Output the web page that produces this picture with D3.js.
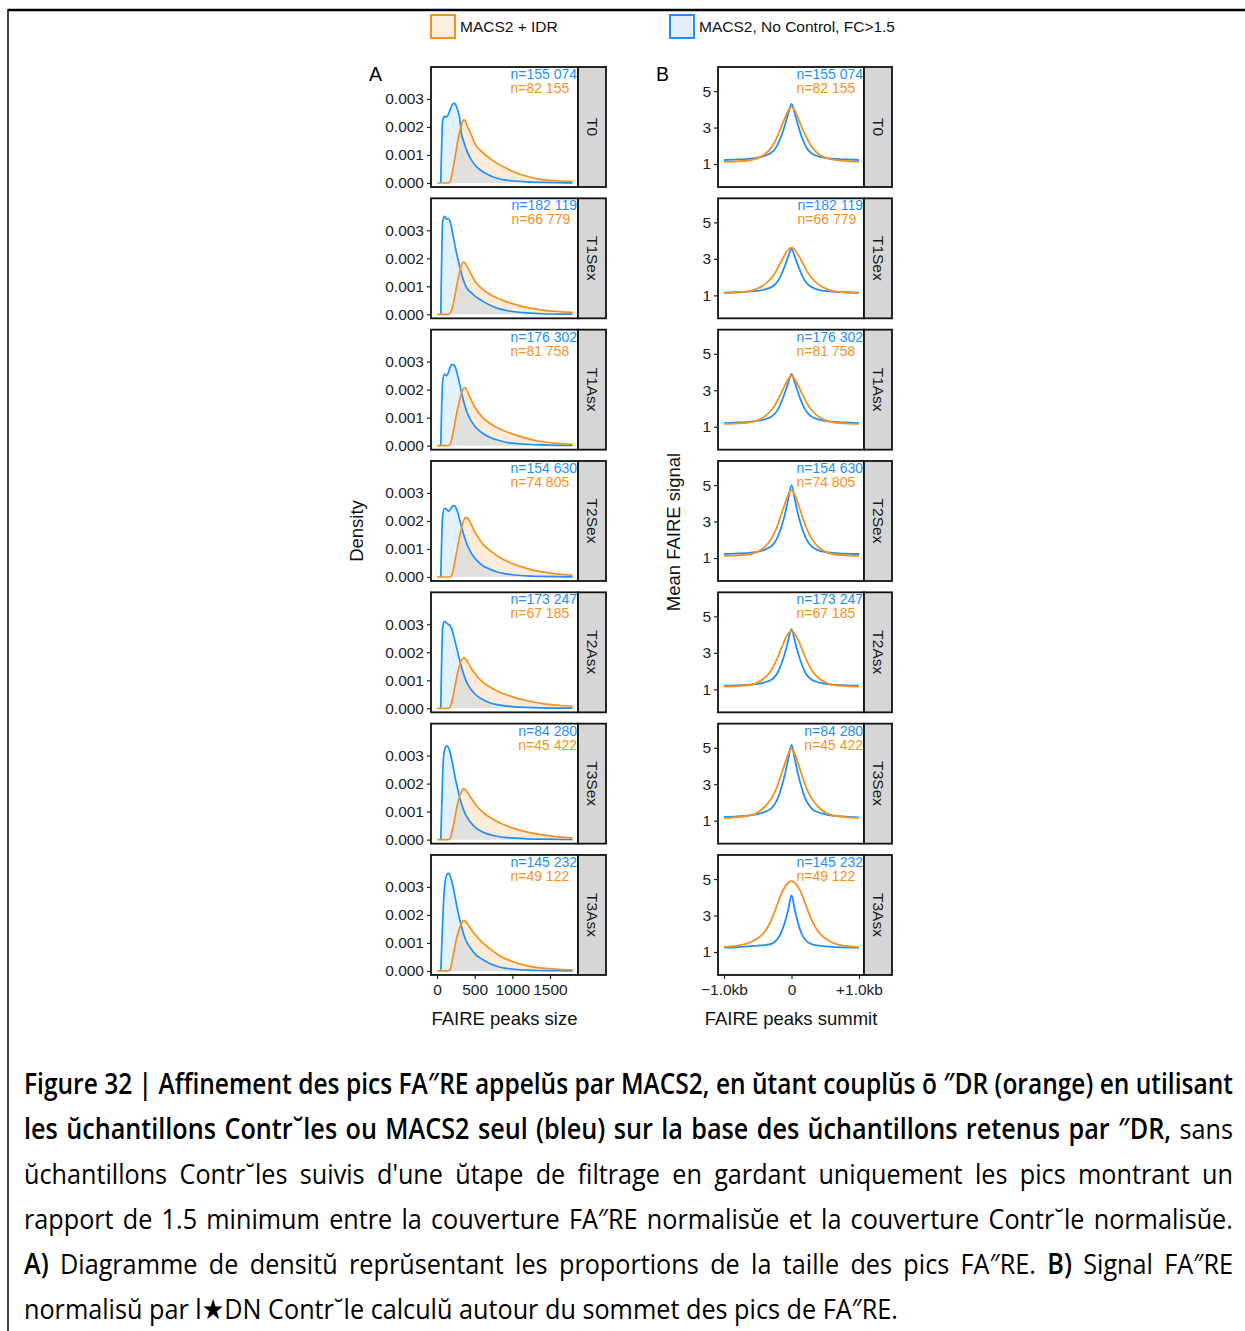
<!DOCTYPE html>
<html><head><meta charset="utf-8">
<script src="https://cdn.jsdelivr.net/npm/d3@7"></script>
<style>body{margin:0;background:#fff} svg{display:block}</style>
</head><body>
<svg id="c" width="1245" height="1331"></svg>
<script>
// ---------------- DATA ----------------
const samples = ["T0","T1Sex","T1Asx","T2Sex","T2Asx","T3Sex","T3Asx"];
const nBlue   = ["n=155 074","n=182 119","n=176 302","n=154 630","n=173 247","n=84 280","n=145 232"];
const nOrange = ["n=82 155","n=66 779","n=81 758","n=74 805","n=67 185","n=45 422","n=49 122"];
const seriesNames = ["MACS2 + IDR","MACS2, No Control, FC>1.5"];

// Panel A: FAIRE peak size (bp) vs density (x 1e-3)
const sizeX = [0,25,50,75,100,125,150,175,200,225,250,275,300,325,350,375,400,450,500,600,700,800,900,1000,1200,1400,1600,1800];
const densBlue = [
 [0,0,0,2.25,2.38,2.35,2.45,2.62,2.78,2.85,2.78,2.6,2.32,1.75,1.52,1.3,1.12,0.85,0.65,0.42,0.27,0.17,0.11,0.08,0.04,0.02,0.01,0.005],
 [0,0,0,3.3,3.5,3.4,3.42,3.3,3.0,2.65,2.3,2.0,1.72,1.45,1.22,1.05,0.92,0.78,0.66,0.48,0.33,0.22,0.15,0.1,0.05,0.02,0.01,0.005],
 [0,0,0,2.3,2.55,2.5,2.6,2.8,2.9,2.88,2.75,2.5,2.2,1.9,1.62,1.38,1.18,0.9,0.7,0.45,0.3,0.2,0.13,0.09,0.05,0.025,0.012,0.006],
 [0,0,0,2.2,2.45,2.42,2.35,2.4,2.52,2.55,2.48,2.3,2.05,1.8,1.55,1.35,1.15,0.88,0.68,0.42,0.28,0.18,0.12,0.08,0.04,0.02,0.01,0.005],
 [0,0,0,2.9,3.1,3.05,3.0,2.95,2.8,2.55,2.28,2.0,1.72,1.48,1.25,1.05,0.9,0.68,0.52,0.32,0.2,0.13,0.09,0.06,0.03,0.015,0.008,0.004],
 [0,0,0,2.4,3.2,3.35,3.3,3.1,2.8,2.45,2.1,1.8,1.5,1.28,1.08,0.92,0.8,0.6,0.46,0.28,0.18,0.12,0.08,0.06,0.03,0.015,0.008,0.004],
 [0,0,0,1.8,3.0,3.4,3.49,3.4,3.15,2.85,2.5,2.15,1.85,1.58,1.35,1.15,1.0,0.8,0.62,0.42,0.27,0.17,0.1,0.07,0.03,0.015,0.008,0.004]
];
const densOrange = [
 [0,0,0,0,0,0,0,0.05,0.35,0.7,1.1,1.5,1.82,2.08,2.25,2.22,2.05,1.75,1.42,1.1,0.88,0.7,0.55,0.42,0.23,0.12,0.08,0.06],
 [0,0,0,0,0,0,0,0.05,0.2,0.5,0.85,1.2,1.5,1.75,1.86,1.82,1.7,1.45,1.2,0.9,0.72,0.58,0.47,0.38,0.24,0.15,0.1,0.07],
 [0,0,0,0,0,0,0,0.05,0.3,0.62,1.0,1.35,1.65,1.88,2.05,2.07,1.95,1.65,1.38,1.02,0.8,0.64,0.52,0.42,0.25,0.14,0.08,0.05],
 [0,0,0,0,0,0,0,0,0.1,0.4,0.75,1.1,1.45,1.75,1.98,2.12,2.12,1.9,1.62,1.2,0.95,0.75,0.6,0.48,0.3,0.18,0.1,0.06],
 [0,0,0,0,0,0,0,0.05,0.28,0.6,0.95,1.28,1.55,1.72,1.8,1.78,1.68,1.45,1.25,0.95,0.76,0.62,0.5,0.41,0.27,0.17,0.11,0.07],
 [0,0,0,0,0,0,0,0.05,0.3,0.62,0.98,1.3,1.55,1.72,1.82,1.8,1.7,1.5,1.3,1.0,0.8,0.65,0.52,0.42,0.27,0.17,0.1,0.06],
 [0,0,0,0,0,0,0,0.05,0.35,0.7,1.05,1.32,1.55,1.7,1.8,1.78,1.7,1.5,1.32,1.02,0.8,0.6,0.45,0.34,0.18,0.1,0.06,0.04]
];
const densTicks = [0,1,2,3];
const densTickLabels = ["0.000","0.001","0.002","0.003"];
const sizeTicks = [0,500,1000,1500];
const sizeTickLabels = ["0","500","1000","1500"];

// Panel B: distance to summit (kb) vs mean FAIRE signal
const profX = [-1,-0.8,-0.6,-0.5,-0.4,-0.3,-0.25,-0.2,-0.15,-0.1,-0.05,0,0.05,0.1,0.15,0.2,0.25,0.3,0.4,0.5,0.6,0.8,1];
const sigBlue = [
 [1.22,1.25,1.3,1.35,1.45,1.62,1.8,2.1,2.55,3.1,3.75,4.3,3.75,3.1,2.5,2.05,1.75,1.58,1.42,1.34,1.29,1.25,1.22],
 [1.15,1.18,1.22,1.25,1.32,1.45,1.58,1.8,2.15,2.6,3.1,3.55,3.1,2.6,2.15,1.8,1.58,1.45,1.3,1.24,1.2,1.17,1.15],
 [1.2,1.23,1.28,1.32,1.4,1.55,1.7,1.95,2.35,2.85,3.4,3.9,3.4,2.85,2.35,1.95,1.7,1.55,1.4,1.32,1.27,1.23,1.2],
 [1.22,1.25,1.3,1.35,1.45,1.65,1.85,2.2,2.7,3.35,4.2,5.0,4.2,3.35,2.7,2.2,1.85,1.62,1.42,1.33,1.28,1.24,1.22],
 [1.2,1.22,1.26,1.3,1.38,1.52,1.68,1.95,2.4,2.95,3.65,4.3,3.65,2.95,2.4,1.95,1.68,1.52,1.38,1.3,1.26,1.22,1.2],
 [1.2,1.24,1.3,1.36,1.47,1.68,1.9,2.25,2.8,3.5,4.35,5.15,4.35,3.5,2.8,2.25,1.9,1.66,1.45,1.35,1.28,1.22,1.18],
 [1.24,1.27,1.32,1.35,1.38,1.45,1.55,1.75,2.1,2.6,3.3,4.1,3.3,2.55,2.0,1.7,1.52,1.43,1.35,1.31,1.28,1.25,1.23]
];
const sigOrange = [
 [1.12,1.15,1.22,1.32,1.52,1.9,2.2,2.6,3.05,3.5,3.92,4.12,3.92,3.5,3.05,2.62,2.25,1.95,1.55,1.35,1.25,1.17,1.12],
 [1.12,1.16,1.25,1.38,1.6,1.95,2.2,2.52,2.88,3.22,3.5,3.62,3.5,3.22,2.88,2.52,2.2,1.95,1.6,1.38,1.25,1.16,1.12],
 [1.15,1.18,1.25,1.35,1.55,1.9,2.15,2.48,2.85,3.25,3.6,3.8,3.6,3.25,2.85,2.48,2.15,1.9,1.55,1.35,1.25,1.18,1.15],
 [1.12,1.15,1.22,1.35,1.6,2.05,2.4,2.85,3.4,3.95,4.45,4.75,4.45,3.95,3.4,2.85,2.4,2.05,1.6,1.35,1.22,1.15,1.12],
 [1.15,1.18,1.25,1.38,1.62,2.05,2.4,2.8,3.25,3.7,4.05,4.2,4.05,3.7,3.25,2.8,2.4,2.05,1.62,1.38,1.25,1.18,1.15],
 [1.15,1.2,1.3,1.45,1.75,2.2,2.55,3.0,3.55,4.1,4.65,4.95,4.65,4.1,3.55,3.0,2.55,2.2,1.75,1.45,1.3,1.2,1.15],
 [1.28,1.35,1.55,1.75,2.1,2.75,3.2,3.7,4.2,4.55,4.8,4.88,4.8,4.55,4.2,3.7,3.2,2.75,2.1,1.75,1.52,1.33,1.26]
];
const sigTicks = [1,3,5];
const sigTickLabels = ["1","3","5"];
const summitTicks = [-1,0,1];
const summitTickLabels = ["\u22121.0kb","0","+1.0kb"];

// ---------------- STYLE / LAYOUT ----------------
const FONT = "'Liberation Sans', Arial, Helvetica, sans-serif";
const BLUE = "#1f8ffb", ORANGE = "#f7901e";
const BLUE_FILL = "rgba(31,143,251,0.13)", ORANGE_FILL = "rgba(247,144,30,0.17)";
const rowTop = i => 67 + i * 131.33;
const PH = 120;
const PA = {x0: 431, x1: 578, s1: 606};
const PB = {x0: 718, x1: 864, s1: 892};

const svg = d3.select("#c");

// frame
svg.append("line").attr("x1", 8).attr("x2", 1245).attr("y1", 10).attr("y2", 10).attr("stroke", "#000").attr("stroke-width", 2.5);
svg.append("line").attr("x1", 8).attr("x2", 8).attr("y1", 9).attr("y2", 1331).attr("stroke", "#000").attr("stroke-width", 1.5);

// legend
const legendX = [431, 670];
const legendStroke = [ORANGE, BLUE];
const legendFill = ["#fdede0", "#e2eefb"];
seriesNames.forEach((name, k) => {
  svg.append("rect").attr("x", legendX[k]).attr("y", 15).attr("width", 24).attr("height", 23)
    .attr("fill", legendFill[k]).attr("stroke", legendStroke[k]).attr("stroke-width", 2);
  svg.append("text").attr("x", legendX[k] + 29).attr("y", 32).attr("font-family", FONT)
    .attr("font-size", 15.5).attr("fill", "#111").text(name);
});

// panel letters and axis titles
svg.append("text").attr("x", 369).attr("y", 81).attr("font-family", FONT).attr("font-size", 19.5).text("A");
svg.append("text").attr("x", 656).attr("y", 81).attr("font-family", FONT).attr("font-size", 19.5).text("B");
svg.append("text").attr("transform", "translate(363,531) rotate(-90)").attr("text-anchor", "middle")
  .attr("font-family", FONT).attr("font-size", 18.5).attr("fill", "#111").text("Density");
svg.append("text").attr("transform", "translate(680,532) rotate(-90)").attr("text-anchor", "middle")
  .attr("font-family", FONT).attr("font-size", 18.5).attr("fill", "#111").text("Mean FAIRE signal");
svg.append("text").attr("x", (PA.x0 + PA.x1) / 2).attr("y", 1025).attr("text-anchor", "middle")
  .attr("font-family", FONT).attr("font-size", 18.5).attr("fill", "#111").text("FAIRE peaks size");
svg.append("text").attr("x", (PB.x0 + PB.x1) / 2).attr("y", 1025).attr("text-anchor", "middle")
  .attr("font-family", FONT).attr("font-size", 18.5).attr("fill", "#111").text("FAIRE peaks summit");

const xA = d3.scaleLinear().domain([-80, 1872]).range([PA.x0, PA.x1]);
const xB = d3.scaleLinear().domain([-1.089, 1.074]).range([PB.x0, PB.x1]);

function styleAxis(g) {
  g.select(".domain").remove();
  g.selectAll(".tick line").attr("stroke", "#222").attr("stroke-width", 1.2);
  g.selectAll(".tick text").attr("fill", "#222").attr("font-family", FONT).attr("font-size", 15.5);
}

function nLabels(i, x1, top) {
  const g = svg.append("g").attr("font-family", FONT).attr("font-size", 14);
  const tb = g.append("text").attr("y", top + 12).attr("fill", BLUE).text(nBlue[i]);
  const to = g.append("text").attr("y", top + 26).attr("fill", ORANGE).text(nOrange[i]);
  const w = Math.max(tb.node().getComputedTextLength(), to.node().getComputedTextLength());
  tb.attr("x", x1 - 1 - w); to.attr("x", x1 - 1 - w);
}

function strip(P, top, label) {
  svg.append("rect").attr("x", P.x1).attr("y", top).attr("width", P.s1 - P.x1).attr("height", PH)
    .attr("fill", "#d6d6d6").attr("stroke", "#111").attr("stroke-width", 1.8);
  svg.append("text").attr("transform", `translate(${(P.x1 + P.s1) / 2},${top + PH / 2}) rotate(90)`)
    .attr("text-anchor", "middle").attr("dominant-baseline", "central")
    .attr("font-family", FONT).attr("font-size", 15.5).attr("fill", "#1a1a1a").text(label);
}

samples.forEach((s, i) => {
  const top = rowTop(i);
  const last = i === samples.length - 1;

  // ---- Panel A ----
  const yA = d3.scaleLinear().domain([-0.143, 4.14]).range([top + PH, top]);
  svg.append("rect").attr("x", PA.x0).attr("y", top).attr("width", PA.x1 - PA.x0).attr("height", PH).attr("fill", "#fff");
  const area = d3.area().x(d => xA(d[0])).y0(yA(0)).y1(d => yA(d[1])).curve(d3.curveMonotoneX);
  const line = d3.line().x(d => xA(d[0])).y(d => yA(d[1])).curve(d3.curveMonotoneX);
  const oPts = sizeX.map((x, j) => [x, densOrange[i][j]]);
  const bPts = sizeX.map((x, j) => [x, densBlue[i][j]]).slice(2);
  svg.append("path").attr("d", area(oPts)).attr("fill", ORANGE_FILL);
  svg.append("path").attr("d", area(bPts)).attr("fill", BLUE_FILL);
  svg.append("path").attr("d", line(bPts)).attr("fill", "none").attr("stroke", BLUE).attr("stroke-width", 1.7);
  svg.append("path").attr("d", line(oPts)).attr("fill", "none").attr("stroke", ORANGE).attr("stroke-width", 1.7);
  svg.append("rect").attr("x", PA.x0).attr("y", top).attr("width", PA.x1 - PA.x0).attr("height", PH)
    .attr("fill", "none").attr("stroke", "#111").attr("stroke-width", 1.8);
  strip(PA, top, s);
  nLabels(i, PA.x1, top);
  svg.append("g").attr("transform", `translate(${PA.x0},0)`)
    .call(d3.axisLeft(yA).tickValues(densTicks).tickFormat((d, k) => densTickLabels[k]).tickSize(4).tickPadding(3))
    .call(styleAxis);
  if (last) {
    svg.append("g").attr("transform", `translate(0,${top + PH})`)
      .call(d3.axisBottom(xA).tickValues(sizeTicks).tickFormat((d, k) => sizeTickLabels[k]).tickSize(4).tickPadding(5))
      .call(styleAxis);
  }

  // ---- Panel B ----
  const yB = d3.scaleLinear().domain([-0.26, 6.32]).range([top + PH, top]);
  svg.append("rect").attr("x", PB.x0).attr("y", top).attr("width", PB.x1 - PB.x0).attr("height", PH).attr("fill", "#fff");
  const lineB = d3.line().x(d => xB(d[0])).y(d => yB(d[1])).curve(d3.curveMonotoneX);
  svg.append("path").attr("d", lineB(profX.map((x, j) => [x, sigBlue[i][j]])))
    .attr("fill", "none").attr("stroke", BLUE).attr("stroke-width", 1.8);
  svg.append("path").attr("d", lineB(profX.map((x, j) => [x, sigOrange[i][j]])))
    .attr("fill", "none").attr("stroke", ORANGE).attr("stroke-width", 1.8);
  svg.append("rect").attr("x", PB.x0).attr("y", top).attr("width", PB.x1 - PB.x0).attr("height", PH)
    .attr("fill", "none").attr("stroke", "#111").attr("stroke-width", 1.8);
  strip(PB, top, s);
  nLabels(i, PB.x1, top);
  svg.append("g").attr("transform", `translate(${PB.x0},0)`)
    .call(d3.axisLeft(yB).tickValues(sigTicks).tickFormat((d, k) => sigTickLabels[k]).tickSize(4).tickPadding(3))
    .call(styleAxis);
  if (last) {
    svg.append("g").attr("transform", `translate(0,${top + PH})`)
      .call(d3.axisBottom(xB).tickValues(summitTicks).tickFormat((d, k) => summitTickLabels[k]).tickSize(4).tickPadding(5))
      .call(styleAxis);
  }
});

// ---------------- CAPTION ----------------
const CAP_FONT = "'Open Sans', 'Noto Sans', 'DejaVu Sans', sans-serif";
const CAP_SIZE = 28;
const BOLD_W = 600;
const capLines = [
  [["Figure 32 | Affinement des pics FA\u2033RE appel\u016Ds par MACS2, en \u016Dtant coupl\u016Ds \u014D \u2033DR (orange) en utilisant", true]],
  [["les \u016Dchantillons Contr\u02D8les ou MACS2 seul (bleu) sur la base des \u016Dchantillons retenus par \u2033DR,", true], ["sans", false]],
  [["\u016Dchantillons Contr\u02D8les suivis d'une \u016Dtape de filtrage en gardant uniquement les pics montrant un", false]],
  [["rapport de 1.5 minimum entre la couverture FA\u2033RE normalis\u016De et la couverture Contr\u02D8le normalis\u016De.", false]],
  [["A)", true], ["Diagramme de densit\u016D repr\u016Dsentant les proportions de la taille des pics FA\u2033RE.", false], ["B)", true], ["Signal FA\u2033RE", false]],
  [["normalis\u016D par l\u2605DN Contr\u02D8le calcul\u016D autour du sommet des pics de FA\u2033RE.", false]]
];
const meas = svg.append("text").attr("font-family", CAP_FONT).attr("font-size", CAP_SIZE);
function mw(t, b) { meas.attr("font-weight", b ? BOLD_W : 400).text(t); return meas.node().getComputedTextLength(); }
const spaceW = mw("a a", false) - mw("aa", false);
const lineWords = capLines.map(segs => {
  const out = [];
  segs.forEach(([t, b]) => t.split(" ").forEach(w => out.push({t: w, b, w: mw(w, b)})));
  return out;
});
const lastWords = lineWords[lineWords.length - 1];
const naturalLast = d3.sum(lastWords, d => d.w) + spaceW * (lastWords.length - 1);
const sx = 874 / naturalLast;
const fullW = 1209 / sx;
meas.remove();
const capG = svg.append("g").attr("transform", `translate(24,0) scale(${sx},1)`);
lineWords.forEach((words, li) => {
  const y = 1094 + li * 45;
  const sumW = d3.sum(words, d => d.w);
  const justify = li < lineWords.length - 1;
  const natural = sumW + spaceW * (words.length - 1);
  let k = 1, gap = spaceW;
  if (justify) {
    if (natural > fullW) { k = fullW / natural; gap = spaceW; }
    else gap = (fullW - sumW) / (words.length - 1);
  }
  const lg = capG.append("g").attr("transform", `scale(${k},1)`);
  let x = 0;
  words.forEach(d => {
    lg.append("text").attr("x", x).attr("y", y).attr("font-family", CAP_FONT).attr("font-size", CAP_SIZE)
      .attr("font-weight", d.b ? BOLD_W : 400).attr("fill", "#000").text(d.t);
    x += d.w + gap;
  });
});
</script>
</body></html>
